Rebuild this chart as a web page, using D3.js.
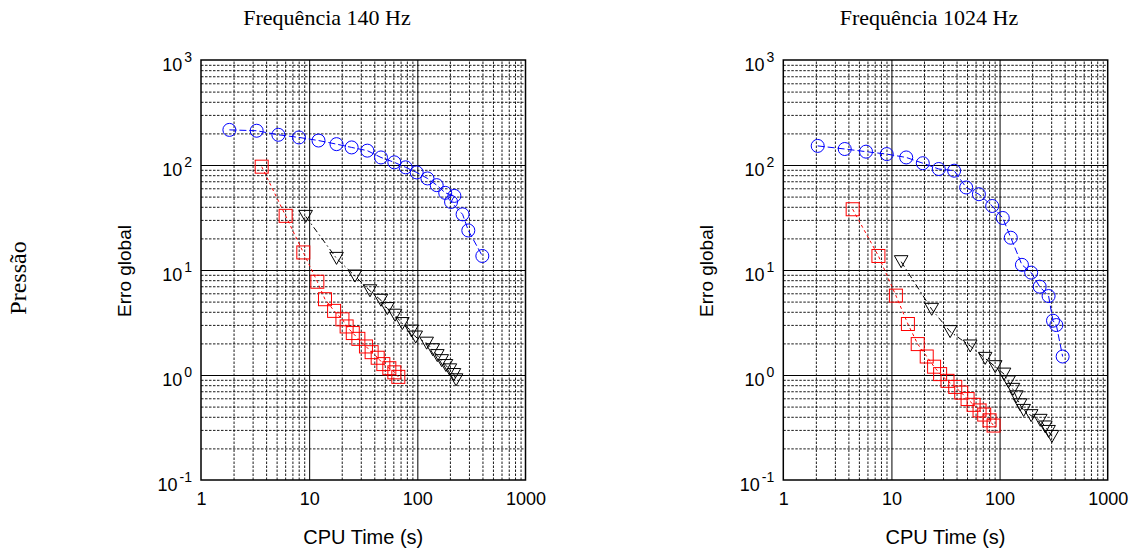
<!DOCTYPE html>
<html>
<head>
<meta charset="utf-8">
<script src="https://cdn.jsdelivr.net/npm/d3@7"></script>
<style>
  body { margin: 0; background: #fff; }
  svg { display: block; }
</style>
</head>
<body>
<div id="chart"></div>
<script>
// series (CPU time in s, global error)
var titles = ["Frequência 140 Hz", "Frequência 1024 Hz"];
var xTickVals = [1, 10, 100, 1000];
var yTickExps = [-1, 0, 1, 2, 3];

var circT140 = [1.83, 3.27, 5.19, 8.05, 12.2, 17.9, 24.7, 34.5, 46.1, 61.3, 78, 98.6, 124, 151, 181, 220, 205, 262, 296, 399];
var circE140 = [216, 212, 194, 183, 171, 158, 147, 137, 118, 106, 95, 85, 74.5, 64.3, 54.3, 50.8, 44.5, 33.9, 23.8, 13.6];
var sqT140 = [3.64, 6.06, 8.83, 11.9, 14.0, 17.0, 20.3, 22.2, 25.3, 28.5, 33.5, 37.8, 43.0, 48.5, 55.1, 61.3, 66.7];
var sqE140 = [96.4, 32.8, 14.7, 7.73, 5.27, 4.08, 3.39, 2.90, 2.51, 2.21, 1.87, 1.65, 1.46, 1.27, 1.16, 1.06, 0.96];
var triT140 = [9.28, 17.9, 26.5, 36.5, 46.1, 52.8, 62.2, 72.7, 88.6, 96.6, 122, 139, 153, 168, 184, 200, 218, 228];
var triE140 = [32.4, 12.9, 8.76, 6.34, 5.15, 4.29, 3.71, 3.09, 2.62, 2.30, 2.01, 1.74, 1.53, 1.37, 1.23, 1.12, 1.01, 0.90];

var circT1024 = [2.08, 3.70, 5.82, 9.05, 13.7, 19.5, 27.4, 38.0, 49.1, 64.4, 85.5, 107, 127, 161, 196, 235, 284, 312, 335, 383];
var circE1024 = [152, 142, 134, 127, 118, 104, 91.6, 88.3, 61.1, 52.7, 40.7, 31.3, 20.3, 11.2, 9.44, 6.94, 5.65, 3.29, 2.99, 1.50];
var sqT1024 = [4.38, 7.58, 11.0, 14.2, 17.5, 21.2, 24.8, 28.2, 33.0, 38.9, 44.2, 50.6, 57.5, 65.3, 72.1, 80.8, 88.0];
var sqE1024 = [37.9, 13.6, 5.70, 3.06, 1.97, 1.50, 1.20, 1.02, 0.88, 0.77, 0.68, 0.59, 0.52, 0.46, 0.42, 0.37, 0.33];
var triT1024 = [12.3, 23.6, 34.9, 53.5, 73.6, 91.2, 110, 121, 133, 143, 155, 167, 196, 238, 265, 284, 305];
var triE1024 = [12.0, 4.22, 2.59, 1.89, 1.44, 1.20, 1.02, 0.86, 0.73, 0.62, 0.52, 0.46, 0.41, 0.37, 0.32, 0.29, 0.26];

var W = 1136, H = 554;
var sans = "'Liberation Sans', Arial, Helvetica, sans-serif";
var serif = "'Liberation Serif', 'Times New Roman', serif";

var svg = d3.select("#chart").append("svg")
    .attr("width", W).attr("height", H);

// row label
svg.append("text")
    .attr("transform", "translate(26,278) rotate(-90)")
    .attr("text-anchor", "middle")
    .style("font-family", serif).style("font-size", "24px")
    .text("Pressão");

function zip(t, e) {
    return t.map(function(d, i) { return {t: d, e: e[i]}; });
}

function panel(x0, x1, titleX, ylabX, title, circ, sq, tri) {
    var top = 60, bot = 480;
    var x = d3.scaleLog().domain([1, 1000]).range([x0, x1]);
    var y = d3.scaleLog().domain([0.1, 1000]).range([bot, top]);

    var minorX = [], minorY = [];
    [1, 10, 100].forEach(function(dec) {
        for (var k = 2; k <= 9; k++) minorX.push(dec * k);
    });
    [0.1, 1, 10, 100].forEach(function(dec) {
        for (var k = 2; k <= 9; k++) minorY.push(dec * k);
    });

    var g = svg.append("g");

    // minor grid (dashed)
    g.append("g").attr("transform", "translate(0," + bot + ")")
        .call(d3.axisBottom(x).tickValues(minorX).tickSize(-(bot - top)).tickFormat(""))
        .call(function(s) {
            s.select(".domain").remove();
            s.selectAll("line").attr("stroke", "#000").attr("stroke-width", 0.9).attr("stroke-dasharray", "2.5,1.5");
        });
    g.append("g").attr("transform", "translate(" + x0 + ",0)")
        .call(d3.axisLeft(y).tickValues(minorY).tickSize(-(x1 - x0)).tickFormat(""))
        .call(function(s) {
            s.select(".domain").remove();
            s.selectAll("line").attr("stroke", "#000").attr("stroke-width", 0.9).attr("stroke-dasharray", "2.5,1.5");
        });

    // major grid (solid)
    g.append("g").attr("transform", "translate(0," + bot + ")")
        .call(d3.axisBottom(x).tickValues([10, 100]).tickSize(-(bot - top)).tickFormat(""))
        .call(function(s) {
            s.select(".domain").remove();
            s.selectAll("line").attr("stroke", "#000").attr("stroke-width", 1);
        });
    g.append("g").attr("transform", "translate(" + x0 + ",0)")
        .call(d3.axisLeft(y).tickValues([1, 10, 100]).tickSize(-(x1 - x0)).tickFormat(""))
        .call(function(s) {
            s.select(".domain").remove();
            s.selectAll("line").attr("stroke", "#000").attr("stroke-width", 1);
        });

    // frame
    g.append("rect")
        .attr("x", x0).attr("y", top)
        .attr("width", x1 - x0).attr("height", bot - top)
        .attr("fill", "none").attr("stroke", "#000").attr("stroke-width", 1.5);

    // x tick labels
    g.append("g").attr("transform", "translate(0," + bot + ")")
        .call(d3.axisBottom(x).tickValues(xTickVals).tickSize(0).tickPadding(12)
            .tickFormat(function(d) { return String(d); }))
        .call(function(s) {
            s.select(".domain").remove();
            s.selectAll("text").attr("fill", "#000")
                .style("font-family", sans).style("font-size", "18px");
        });

    // y tick labels 10^n
    g.append("g").attr("transform", "translate(" + x0 + ",0)")
        .call(d3.axisLeft(y).tickValues(yTickExps.map(function(n) { return Math.pow(10, n); }))
            .tickSize(0).tickPadding(9).tickFormat(""))
        .call(function(s) {
            s.select(".domain").remove();
            s.selectAll("text").attr("fill", "#000").attr("dy", "0.6em")
                .style("font-family", sans).style("font-size", "18px")
                .each(function(d) {
                    var t = d3.select(this);
                    t.append("tspan").text("10");
                    t.append("tspan").attr("dx", 2).attr("dy", -9).style("font-size", "14px")
                        .text(String(Math.round(Math.log10(d))));
                });
        });

    // titles
    svg.append("text")
        .attr("x", titleX).attr("y", 25).attr("text-anchor", "middle")
        .style("font-family", serif).style("font-size", "22px")
        .text(title);
    svg.append("text")
        .attr("transform", "translate(" + ylabX + ",271) rotate(-90)")
        .attr("text-anchor", "middle")
        .style("font-family", sans).style("font-size", "19px")
        .text("Erro global");
    svg.append("text")
        .attr("x", (x0 + x1) / 2).attr("y", 544).attr("text-anchor", "middle")
        .style("font-family", sans).style("font-size", "20px")
        .text("CPU Time (s)");

    var line = d3.line().x(function(d) { return x(d.t); }).y(function(d) { return y(d.e); });

    // blue circles
    g.append("path").datum(circ).attr("d", line)
        .attr("fill", "none").attr("stroke", "#0000ff").attr("stroke-width", 1)
        .attr("stroke-dasharray", "7,3");
    g.selectAll(".circ").data(circ).enter().append("circle")
        .attr("cx", function(d) { return x(d.t); })
        .attr("cy", function(d) { return y(d.e); })
        .attr("r", 6.5)
        .attr("fill", "none").attr("stroke", "#0000ff").attr("stroke-width", 1);

    // red squares
    g.append("path").datum(sq).attr("d", line)
        .attr("fill", "none").attr("stroke", "#ff0000").attr("stroke-width", 1)
        .attr("stroke-dasharray", "3,3");
    g.selectAll(".sq").data(sq).enter().append("rect")
        .attr("x", function(d) { return x(d.t) - 6.5; })
        .attr("y", function(d) { return y(d.e) - 6.5; })
        .attr("width", 13).attr("height", 13)
        .attr("fill", "none").attr("stroke", "#ff0000").attr("stroke-width", 1);

    // black triangles
    g.append("path").datum(tri).attr("d", line)
        .attr("fill", "none").attr("stroke", "#000").attr("stroke-width", 1)
        .attr("stroke-dasharray", "6,3,1.5,3");
    g.selectAll(".tri").data(tri).enter().append("path")
        .attr("d", function(d) {
            var cx = x(d.t), cy = y(d.e);
            return "M" + (cx - 6.8) + "," + (cy - 6) + "L" + (cx + 6.8) + "," + (cy - 6) +
                "L" + cx + "," + (cy + 6) + "Z";
        })
        .attr("fill", "none").attr("stroke", "#000").attr("stroke-width", 1);
}

panel(201, 525.5, 327, 131, titles[0], zip(circT140, circE140), zip(sqT140, sqE140), zip(triT140, triE140));
panel(783.3, 1107.7, 929, 713, titles[1], zip(circT1024, circE1024), zip(sqT1024, sqE1024), zip(triT1024, triE1024));
</script>
</body>
</html>
